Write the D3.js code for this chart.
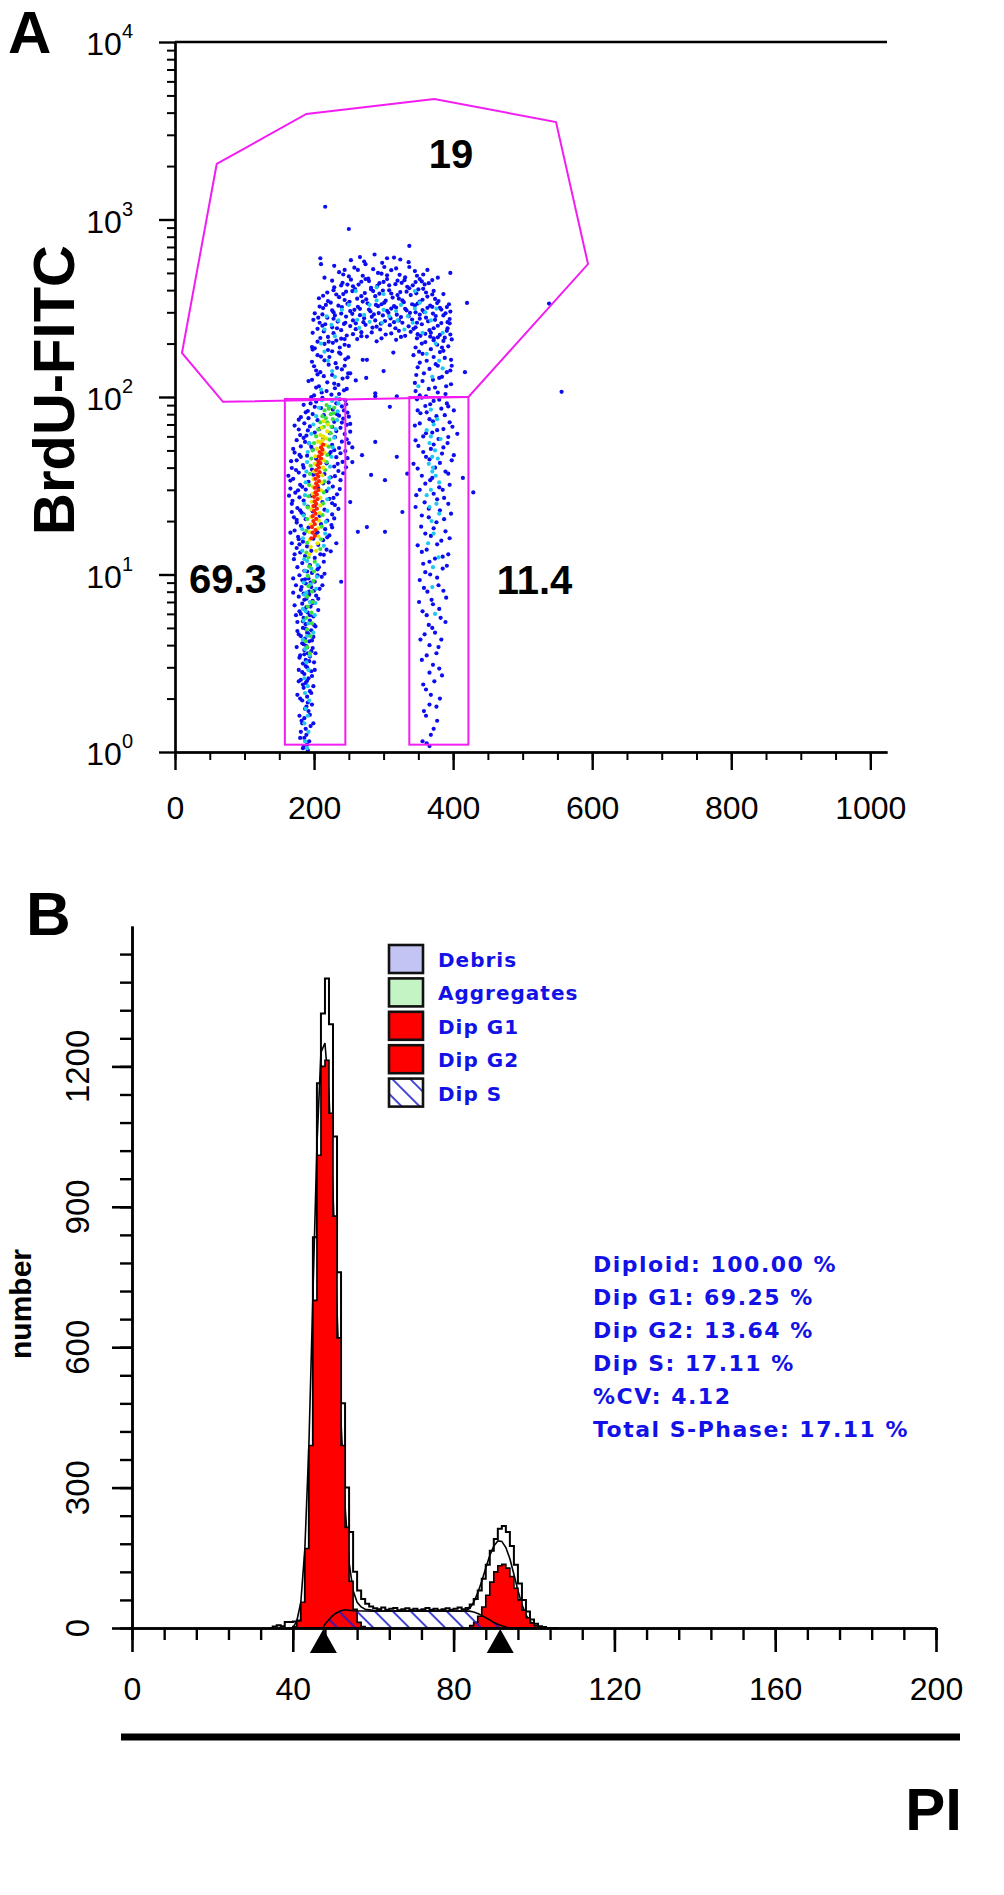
<!DOCTYPE html>
<html>
<head>
<meta charset="utf-8">
<script src="https://cdn.jsdelivr.net/npm/d3@7"></script>
<style>
  body { margin: 0; background: #fff; }
  svg { display: block; font-family: "Liberation Sans", Arial, sans-serif; }
</style>
</head>
<body>
<svg id="fig" width="1004" height="1895"></svg>
<script>
// ---------- panel A : PI (channel) vs BrdU-FITC (log) ----------
const xTicksA = [0, 200, 400, 600, 800, 1000];
const yTicksA = [1, 10, 100, 1000, 10000];

// dots, [PI, BrdU], split by the density colour they carry in the picture
const dotsBlue = [
  // G1 column
  [184,1.05],[190,1.1],[186,1.2],[193,1.15],[181,1.3],[188,1.35],[195,1.4],[183,1.45],[191,1.02],[185,1.08],[189,1.25],[182,1.5],
  [186,1.55],[179,1.6],[192,1.7],[189,1.8],[197,1.85],[183,1.95],[190,2.05],[176,2.1],[194,2.2],[185,2.3],[199,2.35],[188,2.45],
  [194,1.62],[187,1.75],[191,1.9],[180,2.0],[196,2.15],[184,2.4],[190,2.52],[197,2.68],[183,2.82],
  [181,2.55],[192,2.6],[186,2.75],[196,2.85],[178,2.9],[190,3.0],[184,3.15],[200,3.2],[188,3.3],[194,3.45],[180,3.5],[191,3.6],
  [186,3.75],[198,3.85],[175,3.9],[189,3.95],[188,3.05],[193,3.25],[179,3.4],[186,3.55],[196,3.7],[190,3.88],
  [183,4.1],[193,4.2],[187,4.35],[199,4.45],[178,4.6],[190,4.7],[196,4.85],[184,5.0],[202,5.1],[188,5.25],[176,5.4],[194,5.5],
  [185,5.7],[199,5.8],[181,6.0],[191,6.1],[206,6.3],[187,6.4],[195,6.6],[172,6.7],[183,6.85],[185,4.05],[197,4.25],[181,4.5],
  [192,4.62],[188,4.95],[200,5.2],[184,5.45],[194,5.9],[179,6.2],[189,6.55],[198,6.9],
  [198,7.1],[189,7.3],[178,7.5],[203,7.6],[185,7.8],[193,8.0],[181,8.2],[208,8.3],[196,8.5],[174,8.7],[188,8.9],[201,9.1],
  [183,9.3],[192,9.5],[211,9.7],[179,9.9],[197,10.2],[186,10.5],[205,10.7],[176,11],[194,11.3],[183,11.6],[214,11.8],
  [186,7.2],[193,7.7],[200,8.1],[182,8.5],[195,9.0],[187,9.4],[205,9.9],[190,10.4],
  [170,9.5],[207,11],[212,8.7],[176,4.8],[202,3.6],[178,2.5],[199,1.45],[180,1.2],[201,2.9],[174,5.9],[206,7.3],[170,7.9],[215,10.1],
  [171,12.2],[201,12.4],[187,12.7],[209,13],[180,13.3],[196,13.6],[218,13.8],[175,14.1],[190,14.4],[206,14.7],[168,15],[184,15.3],
  [213,15.6],[199,15.9],[177,16.3],[222,16.6],[186,17],[205,17.3],[172,17.7],[216,18],[192,18.4],[181,18.8],[210,19.2],[175,19.6],
  [214,12.9],[179,14.8],[203,16.8],[225,19],[172,13],[224,13.5],[178,15.8],[219,16.2],[166,17.2],[226,18.4],[232,15],
  [219,20.1],[188,20.5],[171,21],[208,21.4],[226,21.8],[182,22.3],[198,22.7],[215,23.2],[176,23.7],[191,24.1],[230,24.6],[168,25],
  [212,25.6],[185,26.1],[222,26.7],[179,27.2],[196,27.8],[233,28.3],[173,28.9],[218,29.5],[188,30.1],[206,30.7],[227,31.3],[180,32],
  [213,32.6],[192,33.3],[238,34],[170,34.6],[185,21.8],[201,24.4],[228,27],[166,30.5],[221,33],[168,22.5],[164,27.8],
  [175,20.3],[229,20.7],[180,23],[235,23.4],[169,26],[226,25.2],[177,29.8],[237,30.3],[183,31.2],[166,33.8],
  [224,35.3],[186,36],[215,36.8],[178,37.5],[235,38.3],[197,39],[168,39.8],[229,40.6],[184,41.4],[218,42.3],[241,43.1],[175,44],
  [203,44.9],[232,45.8],[190,46.7],[222,47.7],[172,48.6],[245,49.6],[198,50.6],[236,51.6],[181,52.7],[226,53.7],[193,54.8],[240,56],
  [175,57.1],[213,58.2],[230,59.4],[199,36.5],[246,40.2],[207,42.8],[181,46],[224,49],[196,52.3],[250,55],[185,58.8],
  [230,35.8],[174,38.8],[242,37.2],[185,40],[234,42],[167,43.5],[248,45.2],[179,47.2],[238,48.2],[170,51],[229,50.2],[187,55.8],
  [247,57.8],[163,36],[255,52],
  [189,60.6],[244,61.8],[201,63],[232,64.3],[178,65.6],[238,67],[194,68.3],[247,69.7],[186,71.1],[229,72.5],[205,74],[242,75.5],
  [181,77],[236,78.5],[198,80.1],[248,81.7],[191,83.4],[227,85],[210,86.7],[240,88.5],[185,90.3],[232,92.1],[203,94],[245,95.8],
  [196,97.7],[223,62.5],[208,66.2],[252,70.5],[178,74.5],[214,79],[243,84],[201,88],[237,97],
  [180,61],[252,63.8],[191,64.8],[226,67.8],[172,69],[240,71.8],[192,76],[250,77.5],[188,82],[233,80],[246,91],[195,92],[212,99],
  // S-phase arch
  [200,102],[236,104],[218,108],[247,111],[207,115],[229,119],[192,123],[241,127],[214,131],[252,136],[203,141],[233,146],
  [221,152],[197,158],[245,163],[210,169],[238,175],[226,181],[201,188],[250,194],[215,199],
  [196,100],[225,103],[211,106],[243,109],[203,113],[235,117],[219,121],[197,125],[248,129],[226,133],[209,138],[240,143],
  [200,149],[231,155],[215,161],[249,167],[205,172],[236,178],[220,184],[197,191],[244,197],[227,202],
  [205,205],[232,208],[262,212],[290,206],[318,210],[348,214],[372,209],[388,216],[220,218],[247,222],[276,219],[303,225],
  [331,221],[360,227],[381,224],[198,230],[214,234],[239,238],[268,232],[295,240],[322,236],[343,242],[366,238],[392,244],
  [226,247],[252,251],[284,246],[309,254],[336,250],[355,257],[378,252],[208,262],[234,266],[260,260],[288,270],[315,264],
  [341,273],[364,267],[395,275],[219,280],[246,284],[272,278],
  [299,288],[325,282],[352,291],[375,286],[201,296],[228,300],[255,294],[281,304],[307,298],[333,308],[358,302],[383,311],
  [213,317],[240,321],[266,314],[292,325],[318,319],[345,328],[370,322],[394,333],[224,340],[251,344],[277,337],[303,349],
  [329,342],[356,353],[379,347],[207,360],[236,365],[262,358],[288,370],[313,363],[339,375],[363,368],[386,380],[219,388],
  [246,392],[273,385],[299,398],[324,390],[350,404],[372,396],[229,415],[256,420],[282,412],[308,426],[334,418],[359,431],
  [241,440],[268,446],[294,438],[320,452],[346,444],[370,456],
  [209,215],[239,213],[268,220],[297,214],[325,218],[353,221],[378,217],[396,225],[228,229],[256,226],[283,231],[311,228],
  [339,233],[368,230],[391,236],[205,242],[233,244],[260,241],[290,249],[317,244],[346,247],[372,244],[216,257],[245,262],
  [271,264],[296,259],[322,270],[348,262],[374,272],[392,264],[228,276],[256,270],[283,283],[310,277],[336,285],[361,280],
  [386,288],[212,292],[239,295],[266,289],[293,297],[319,291],[346,300],[371,295],[396,303],[226,308],[252,305],[279,311],
  [305,306],[331,314],[356,309],[381,318],[208,323],[235,327],[263,322],[289,330],[315,325],[341,333],[367,327],[391,321],
  [220,347],[248,335],[275,355],[301,340],[327,350],[352,345],[377,338],[213,372],[242,380],[268,370],[294,382],[320,375],
  [347,384],[370,378],[228,400],[255,395],[282,404],[308,399],[333,392],[357,407],[239,425],[264,430],[291,423],[317,432],
  [342,426],[365,438],[226,452],[253,458],[279,450],[305,462],[330,455],[355,448],[242,490],[270,482],[297,495],[323,488],
  [348,482],[258,535],[285,525],[311,518],[337,540],[272,580],[298,570],[324,595],[244,520],[378,470],
  [215,470],[250,478],[278,465],[305,485],[331,472],[357,490],[236,505],[263,520],[292,500],[318,530],[345,512],[229,548],
  [274,560],[301,540],[336,575],[253,590],[315,610],[287,635],[363,520],[210,560],
  [212,252],[243,258],[274,255],[302,268],[327,262],[352,276],[383,261],[199,272],[230,288],[258,310],[286,292],[311,315],
  [338,298],[363,318],[389,296],[217,330],[244,352],[270,345],[297,333],[322,358],[349,336],[374,357],[232,378],[259,406],
  [285,395],[311,383],[337,410],[361,388],[248,430],[274,462],[300,445],[326,440],[352,462],[221,205],[237,190],[222,168],
  [244,150],[205,134],[230,112],[398,150],[351,180],[395,260],[384,190],[206,280],[198,185],[244,212],
  [352,102],[378,106],[365,111],[390,115],[345,120],[371,125],[384,130],[358,136],[396,141],[349,147],[375,153],[362,160],
  [388,166],[343,172],[381,179],[368,186],[393,193],[355,200],[386,207],[372,214],
  [361,101],[389,104],[346,108],[374,113],[397,118],[356,123],[380,128],[347,133],[391,138],[366,144],[378,150],[352,156],
  [397,162],[372,168],[356,175],[386,182],[346,190],[377,197],[360,204],[398,211],[367,219],[349,226],
  [276,162],[314,178],[288,105],[260,124],[300,140],
  // outliers above the arch
  [216,1180],[250,884],[337,710],[209,605],[266,614],[305,605],[396,500],[420,339],[538,336],
  // G2 column
  [348,97],[372,95],[391,92],[360,89],[383,86],[401,84],[353,81],[376,78],[366,75],[395,72],[345,69],[386,66],[370,63],
  [357,60],[406,62],[379,58],[392,55],[350,53],[368,51],[384,48],[361,46],[398,44],[343,42],[374,40],[389,38],[355,36],
  [367,34],[395,32],[380,31],[352,30],[372,28.5],[387,27],[359,25.5],[346,24],[381,23],[397,22],[365,21],[376,19.7],
  [354,18.6],[389,17.5],[368,16.5],[383,15.5],[349,14.6],[362,13.8],[393,13],[374,12.3],[357,11.5],[385,10.8],[367,10],
  [352,9.3],[379,8.7],[363,8],[390,7.4],[371,6.8],[356,6.2],[382,5.7],[365,5.2],[374,4.7],[353,4.3],[379,3.9],[362,3.5],
  [371,3.1],[384,2.7],[357,2.4],[368,2.1],[376,1.8],[361,1.6],[372,1.35],[356,1.15],[366,1.08],
  [355,99],[380,96.5],[367,91],[393,88.5],[349,84],[362,82],[388,79],[371,73],[352,71],[399,68],[377,65],[361,62.5],
  [393,59.5],[346,57],[372,54],[386,52],[357,49],[401,47],[366,44.5],[381,42.5],[349,39.5],[393,37],[370,35],[360,32.5],
  [385,30],[347,28],[377,26.5],[393,25],[365,23.5],[355,21.5],[387,20.5],[372,18.2],[360,17],[395,16],[377,14.8],[355,13.4],
  [385,12.6],[366,11.8],[391,11.2],[360,10.3],[377,9.6],[358,8.4],[386,8.1],[369,7.2],[351,7.0],[380,6.4],[362,5.9],
  [389,5.4],[370,5.0],[359,4.6],[383,4.3],[366,4.0],[376,3.6],[355,3.3],[380,2.95],[366,2.8],[373,2.5],[361,2.25],[381,2.0],
  [366,1.85],[358,1.7],[377,1.5],[368,1.25],[362,1.12],
  // between the gates
  [288,55.8],[255,43],[282,36.4],[269,47],[302,34],[319,46],[334,37],[252,25.6],[327,22.5],[263,17.4],[276,18.5],[302,17.4],
  [239,9.1],[309,88],[288,101],[319,101],[249,136],[270,162],[275,128],[429,29],[414,35],[417,138],[556,107]
];
const dotsCyan = [
  [190,1.05],[187,1.15],[192,1.3],[186,1.45],[191,1.6],[188,1.75],[193,1.95],[187,2.15],[191,2.35],[186,2.6],[192,2.9],
  [189,3.2],[194,3.5],[187,3.8],
  [184,4.3],[199,4.7],[185,5.5],[201,5.9],[184,6.4],[202,6.9],[186,7.7],[203,8.3],[185,9.0],[204,9.7],[187,10.5],[205,11.3],
  [186,12.2],
  [183,13.6],[214,14.5],[184,16],[216,17],[183,18],[217,19.8],[185,21.5],[219,22.8],[186,25],[219,26.5],[187,28],[221,30.5],
  [188,33],[222,35],[189,38],[223,40.5],[190,43],[225,46],[191,49],[227,52],[193,55],[229,59],[196,62],[231,66],[199,70],
  [233,74],[203,78],[234,83],[207,87],[235,92],[211,96],[232,99],[226,95],[222,88],
  [190,4.5],[192,5.3],[188,6.2],[194,7.0],[189,7.9],[195,8.8],[191,9.8],[196,10.8],[190,11.9],
  // S-phase arch
  [225,255],[262,272],[298,262],[335,285],[368,270],[240,310],[280,330],[318,305],[352,340],[210,200],[220,160],[230,130],
  [376,315],[300,380],[260,395],[345,395],[380,160],[370,130],[215,240],[385,230],
  [235,270],[272,290],[308,285],[342,262],[360,300],[250,330],[290,350],[325,330],[265,245],[330,240],[300,310],[218,285],
  [230,220],[356,230],[290,415],[215,180],[226,140],[375,200],[362,175],[385,145],[350,115],[210,110],[320,270],[280,265],
  [345,315],
  // G2 column
  [372,70],[366,55],[378,45],[370,38],[362,28],[376,25],[369,20],[380,33],[374,50],[364,15],[371,11],
  [368,85],[377,75],[362,65],[382,58],[370,46],[365,42],[375,36],[368,30],[380,22],[372,17],[366,24],[379,12.5],[370,8.5],
  [374,6],[368,60],[371,40]
];
const dotsGreen = [
  [188,4.2],[195,4.5],[190,4.9],[197,5.3],[189,5.7],[196,6.1],[191,6.6],[198,7.0],[190,7.5],[197,8.0],[192,8.6],[199,9.2],
  [191,9.8],[200,10.4],[193,11.1],[201,11.8],[192,12.5],[194,3.6],[190,3.9],
  [189,13.3],[209,13.9],[190,15.1],[210,15.8],[189,17.6],[211,18.6],[190,20.5],[212,21.6],[191,23.9],[213,25.1],[192,27.6],
  [214,29],[193,31.9],[215,33.5],[194,36.9],[216,38.8],[195,41],[218,43],[196,45],[219,47.2],[198,50],[221,52.5],[200,55],
  [222,57.5],[203,60],[224,62.5],[206,65.5],[225,68],[209,72],[227,75],[212,78],[228,81],[215,84],[229,87],[218,90],
  [224,80],[221,86],[219,72],[214,68],[217,76]
];
const dotsYellow = [
  [193,13],[203,13.6],[195,14.3],[205,15],[194,15.7],[206,16.4],[194,17.3],[206,18.2],[195,19.1],[207,20.1],[196,21.1],
  [208,22.2],[196,23.3],[209,24.5],[197,25.7],[209,27],[198,28.4],[210,29.8],[198,31.3],[211,32.9],[199,34.5],[212,36.2],
  [200,38],[213,40],[201,42],[214,44],[202,46.3],[215,48.6],[204,51],[216,53.5],[206,56],[217,58.5],[209,61],[219,64],
  [211,67],[220,70],[214,73],[213,60],[210,55],[212,57]
];
const dotsRed = [
  [196,16],[201,16.5],[198,17.2],[202,17.8],[197,18.5],[201,19.2],[199,20],[203,20.6],[198,21.3],[202,22],[200,22.8],
  [204,23.5],[199,24.3],[203,25],[201,25.8],[205,26.6],[200,27.4],[204,28.2],[202,29],[206,29.9],[201,30.8],[205,31.7],
  [203,32.6],[207,33.6],[202,34.6],[206,35.6],[204,36.6],[208,37.7],[203,38.8],[207,40],[205,41.2],[209,42.4],[206,43.6],
  [210,45],[207,46.3],[211,47.7],[208,49],[212,50.5],[210,52],[213,54]
];

// gates
const gateS = [[60,2055],[189,3930],[373,4775],[548,3540],[594,561],[422,100],[69,94],[10,177]];
const gateG1 = [[158,1.1],[245,97.5]];
const gateG2 = [[337,1.1],[422,100]];
const gateNames = ['19', '69.3', '11.4'];
const gateNameAt = [[397,1950],[76,7.9],[517,7.8]];

// ---------- panel B : PI histogram (ModFit) ----------
const xTicksB = [0, 40, 80, 120, 160, 200];
const yTicksB = [0, 300, 600, 900, 1200];
const channels = [34,35,36,37,38,39,40,41,42,43,44,45,46,47,48,49,50,51,52,53,54,55,56,57,58,59,60,61,62,63,64,65,66,67,68,69,
  70,71,72,73,74,75,76,77,78,79,80,81,82,83,84,85,86,87,88,89,90,91,92,93,94,95,96,97,98,99,100,101,102,103,104,105,106];
const rawCounts = [0,3,6,4,13,13,14,16,50,150,380,835,1164,1313,1388,1290,1050,760,480,300,205,120,80,62,52,46,42,40,44,39,41,43,
  38,40,42,39,41,38,40,43,39,41,38,40,42,39,41,44,40,43,50,62,80,105,135,165,190,212,218,205,175,135,95,60,35,18,9,4,2,0,0,0,0];
// model curves as [channel, count]
const fitSum = [[40,0],[41,15],[42,55],[43,170],[44,390],[45,710],[46,1030],[47,1230],[48,1250],[49,1140],[50,930],[51,680],
  [52,440],[53,260],[54,140],[55,80],[56,55],[57,45],[58,40],[59,39],[60,38],[62,37],[66,36],[82,36],[83,37],[84,42],[85,55],
  [86,75],[87,100],[88,128],[89,155],[90,175],[91,186],[92,185],[93,172],[94,148],[95,115],[96,80],[97,50],[98,28],[99,14],
  [100,6],[101,2],[102,0]];
const dipG1 = [[40,3],[41,15],[42,55],[43,170],[44,390],[45,700],[46,1010],[47,1200],[48,1213],[49,1100],[50,880],[51,620],
  [52,390],[53,215],[54,100],[55,40],[56,12],[57,3],[58,0]];
const dipG2 = [[84,5],[85,12],[86,25],[87,45],[88,70],[89,98],[90,120],[91,133],[92,136],[93,128],[94,110],[95,85],[96,60],
  [97,38],[98,22],[99,11],[100,5],[101,2],[102,0]];
const dipS = [[47.5,0],[48,8],[49,18],[50,27],[51,33],[52,37],[53,39],[54,38],[55,37],[60,36],[84,36],[85,34],[86,31],[87,27],
  [88,22],[89,17],[90,12],[91,8],[92,5],[93,2],[94,0]];
const peakMeans = [47.6, 91.6];

const legendNames = ['Debris', 'Aggregates', 'Dip G1', 'Dip G2', 'Dip S'];
const statLines = ['Diploid: 100.00 %', 'Dip G1: 69.25 %', 'Dip G2: 13.64 %', 'Dip S: 17.11 %', '%CV: 4.12',
  'Total S-Phase: 17.11 %'];

const svg = d3.select('#fig');
svg.append('rect').attr('width', 1004).attr('height', 1895).attr('fill', '#fff');

const defs = svg.append('defs');
const hatch = defs.append('pattern').attr('id', 'hatch').attr('patternUnits', 'userSpaceOnUse')
  .attr('width', 12.7).attr('height', 12.7).attr('patternTransform', 'rotate(-45)');
hatch.append('line').attr('x1', 2).attr('y1', 0).attr('x2', 2).attr('y2', 12.7)
  .attr('stroke', '#1a1ad0').attr('stroke-width', 1.6);

const blue = '#1212e6';
const magenta = '#f21df2';

// ===== A =====
const xA = d3.scaleLinear().domain([0, 1024]).range([175, 887]);
const yA = d3.scaleLog().domain([1, 10000]).range([752, 42]);
const gA = svg.append('g');

[[dotsBlue, '#0c0cf0'], [dotsCyan, '#1ec8f0'], [dotsGreen, '#3ce03c'], [dotsYellow, '#e8e400'], [dotsRed, '#ff2200']]
  .forEach(([pts, col]) => {
    gA.append('g').selectAll('circle').data(pts).join('circle')
      .attr('cx', d => xA(d[0])).attr('cy', d => yA(d[1])).attr('r', 2.1).attr('fill', col);
  });

const gateLine = d3.line().x(d => xA(d[0])).y(d => yA(d[1]));
gA.append('path').attr('d', gateLine(gateS) + 'Z')
  .attr('fill', 'none').attr('stroke', magenta).attr('stroke-width', 2);
[gateG1, gateG2].forEach(g => {
  gA.append('rect')
    .attr('x', xA(g[0][0])).attr('y', yA(g[1][1]))
    .attr('width', xA(g[1][0]) - xA(g[0][0])).attr('height', yA(g[0][1]) - yA(g[1][1]))
    .attr('fill', 'none').attr('stroke', magenta).attr('stroke-width', 2);
});
gA.selectAll('text.gate').data(gateNames).join('text').attr('class', 'gate')
  .attr('x', (d, i) => xA(gateNameAt[i][0])).attr('y', (d, i) => yA(gateNameAt[i][1]))
  .attr('text-anchor', 'middle').attr('font-size', 40).attr('font-weight', 'bold').text(d => d);

// axes A
const minorY = [];
[1, 10, 100, 1000].forEach(dec => [2, 3, 4, 5, 6, 7, 8, 9].forEach(m => minorY.push(dec * m)));
function styleAxis(g, w) {
  g.selectAll('path,line').attr('stroke', '#000').attr('stroke-width', w);
  g.selectAll('text').attr('font-family', '"Liberation Sans", Arial, sans-serif').attr('fill', '#000');
}
gA.append('g').attr('transform', 'translate(175,0)')
  .call(d3.axisLeft(yA).tickValues(minorY).tickSize(8).tickSizeOuter(0).tickFormat(''))
  .call(styleAxis, 2);
gA.append('g').attr('transform', 'translate(175,0)')
  .call(d3.axisLeft(yA).tickValues(yTicksA).tickSize(16).tickSizeOuter(0).tickFormat(''))
  .call(styleAxis, 2.4);
gA.append('g').attr('transform', 'translate(0,752)')
  .call(d3.axisBottom(xA).tickValues(d3.range(0, 1001, 50)).tickSize(8).tickSizeOuter(0).tickFormat(''))
  .call(styleAxis, 2);
gA.append('g').attr('transform', 'translate(0,752)')
  .call(d3.axisBottom(xA).tickValues(xTicksA).tickSize(18).tickSizeOuter(0).tickPadding(26).tickFormat(d3.format('d')))
  .call(styleAxis, 2.4)
  .call(g => g.selectAll('text').attr('font-size', 32));
gA.append('line').attr('x1', xA(0)).attr('x2', xA(1024)).attr('y1', yA(10000)).attr('y2', yA(10000))
  .attr('stroke', '#000').attr('stroke-width', 2.4);

// 10^k labels
const yLab = gA.selectAll('text.ylab').data(yTicksA).join('text').attr('class', 'ylab')
  .attr('x', 133).attr('y', d => yA(d) + 13).attr('text-anchor', 'end').attr('font-size', 32);
yLab.append('tspan').text('10');
yLab.append('tspan').attr('font-size', 20).attr('dy', -17).text(d => Math.round(Math.log10(d)));

gA.append('text').attr('transform', 'translate(74,390) rotate(-90)').attr('text-anchor', 'middle')
  .attr('font-size', 58).attr('font-weight', 'bold').text('BrdU-FITC');
svg.append('text').attr('x', 8).attr('y', 53).attr('font-size', 60).attr('font-weight', 'bold').text('A');

// ===== B =====
const xB = d3.scaleLinear().domain([0, 200]).range([132, 936]);
const yB = d3.scaleLinear().domain([0, 1500]).range([1628, 926]);
const gB = svg.append('g');

const rawData = channels.map((c, i) => [c, rawCounts[i]]);
const stepArea = d3.area().x(d => xB(d[0])).y0(yB(0)).y1(d => yB(d[1])).curve(d3.curveStepAfter);
const stepLine = d3.line().x(d => xB(d[0])).y(d => yB(d[1])).curve(d3.curveStepAfter);
const smoothLine = d3.line().x(d => xB(d[0])).y(d => yB(d[1]));
const smoothArea = d3.area().x(d => xB(d[0])).y0(yB(0)).y1(d => yB(d[1]));

gB.append('path').attr('d', stepArea(rawData)).attr('fill', '#fff');
gB.append('path').attr('d', stepLine(rawData)).attr('fill', 'none').attr('stroke', '#000').attr('stroke-width', 2);
gB.append('path').attr('d', smoothLine(fitSum)).attr('fill', 'none').attr('stroke', '#000').attr('stroke-width', 1.6);
[dipG1, dipG2].forEach(s => {
  gB.append('path').attr('d', stepArea(s)).attr('fill', '#ff0000').attr('stroke', '#000').attr('stroke-width', 1.6);
});
gB.append('path').attr('d', smoothArea(dipS)).attr('fill', 'url(#hatch)');
gB.append('path').attr('d', smoothLine(dipS)).attr('fill', 'none').attr('stroke', '#000').attr('stroke-width', 1.6);

// peak markers
gB.selectAll('path.mark').data(peakMeans).join('path').attr('class', 'mark')
  .attr('d', d => `M${xB(d) - 13.5},${yB(0) + 25}L${xB(d)},${yB(0) + 1}L${xB(d) + 13.5},${yB(0) + 25}Z`)
  .attr('fill', '#000');

// axes B
gB.append('g').attr('transform', 'translate(132,0)')
  .call(d3.axisLeft(yB).tickValues(d3.range(0, 1441, 60)).tickSize(12).tickSizeOuter(0).tickFormat(''))
  .call(styleAxis, 2.4);
gB.append('g').attr('transform', 'translate(132,0)')
  .call(d3.axisLeft(yB).tickValues(yTicksB).tickSize(20).tickSizeOuter(0).tickFormat(''))
  .call(styleAxis, 2.6);
gB.append('g').attr('transform', 'translate(0,1628)')
  .call(d3.axisBottom(xB).tickValues(d3.range(0, 201, 8)).tickSize(12).tickSizeOuter(0).tickFormat(''))
  .call(styleAxis, 2.4);
gB.append('g').attr('transform', 'translate(0,1628)')
  .call(d3.axisBottom(xB).tickValues(xTicksB).tickSize(24).tickSizeOuter(0).tickPadding(25))
  .call(styleAxis, 2.6)
  .call(g => g.selectAll('text').attr('font-size', 32));
gB.selectAll('text.ylabB').data(yTicksB).join('text').attr('class', 'ylabB')
  .attr('transform', d => `translate(89,${yB(d)}) rotate(-90)`).attr('text-anchor', 'middle')
  .attr('font-size', 33).text(d => d);

gB.append('text').attr('transform', 'translate(31,1304) rotate(-90)').attr('text-anchor', 'middle')
  .attr('font-size', 30).attr('font-weight', 'bold').text('number');
gB.append('line').attr('x1', 121).attr('x2', 960).attr('y1', 1737).attr('y2', 1737)
  .attr('stroke', '#000').attr('stroke-width', 7);
gB.append('text').attr('x', 962).attr('y', 1830).attr('text-anchor', 'end')
  .attr('font-size', 60).attr('font-weight', 'bold').text('PI');
svg.append('text').attr('x', 26).attr('y', 935).attr('font-size', 62).attr('font-weight', 'bold').text('B');

// legend
const swatchFill = ['#c4c4f4', '#c4f4c4', '#ff0000', '#ff0000', 'url(#hatch)'];
const leg = gB.selectAll('g.leg').data(legendNames).join('g').attr('class', 'leg')
  .attr('transform', (d, i) => `translate(389,${945 + i * 33.4})`);
leg.append('rect').attr('width', 34).attr('height', 28).attr('fill', '#fff');
leg.append('rect').attr('width', 34).attr('height', 28).attr('fill', (d, i) => swatchFill[i])
  .attr('stroke', '#111').attr('stroke-width', 2.6);
leg.append('text').attr('x', 49).attr('y', 22).attr('font-family', '"DejaVu Sans", sans-serif').attr('font-size', 20)
  .attr('font-weight', 'bold').attr('letter-spacing', 1).attr('fill', blue).text(d => d);

gB.selectAll('text.stat').data(statLines).join('text').attr('class', 'stat')
  .attr('x', 593).attr('y', (d, i) => 1272 + i * 33).attr('font-family', '"DejaVu Sans", sans-serif')
  .attr('font-size', 22).attr('font-weight', 'bold').attr('letter-spacing', 1.5).attr('fill', blue).text(d => d);
</script>
</body>
</html>
